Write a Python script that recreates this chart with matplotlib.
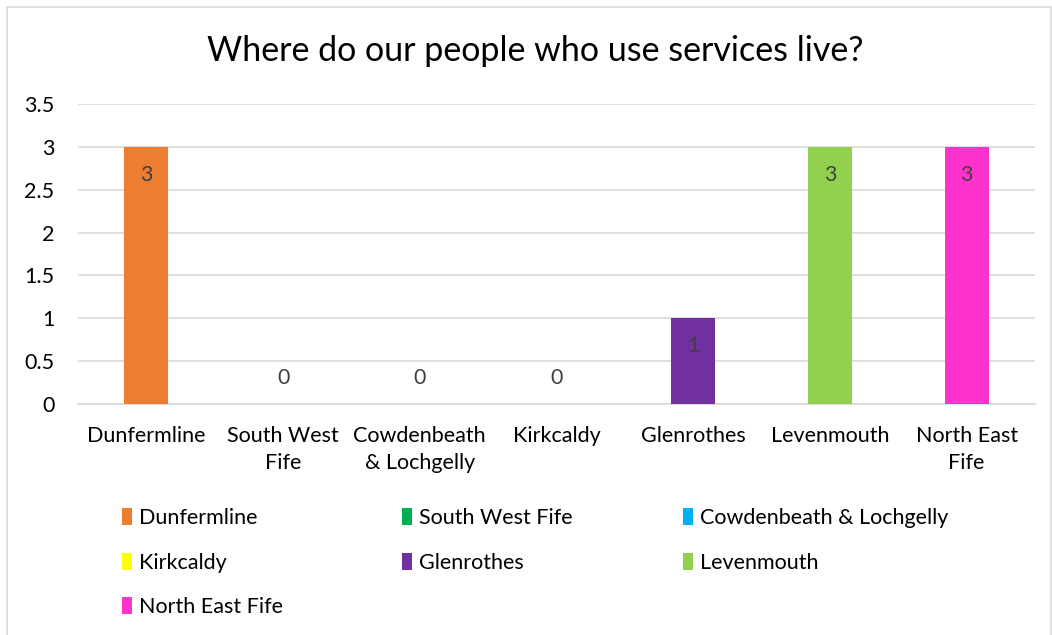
import matplotlib
matplotlib.use("Agg")
import matplotlib.pyplot as plt
from matplotlib.patches import Patch, Rectangle

# data
areas = ["Dunfermline", "South West Fife", "Cowdenbeath & Lochgelly", "Kirkcaldy",
         "Glenrothes", "Levenmouth", "North East Fife"]
tick_labels = ["Dunfermline", "South West\nFife", "Cowdenbeath\n& Lochgelly", "Kirkcaldy",
               "Glenrothes", "Levenmouth", "North East\nFife"]
counts = [3, 0, 0, 0, 1, 3, 3]
colors = ["#ED7D31", "#00B050", "#00B0F0", "#FFFF00", "#7030A0", "#92D050", "#FF33CC"]

plt.rcParams["font.family"] = ["Lato", "DejaVu Sans"]

W, H = 1052, 635
fig = plt.figure(figsize=(W / 100, H / 100), dpi=100)
ax = fig.add_axes([78 / W, 1 - 404 / H, (1035 - 78) / W, 300 / H])

x = range(len(areas))
bars = ax.bar(x, counts, width=0.32, color=colors, zorder=3)

# value labels: inside the bar top, or just above the axis when zero
for xi, v in zip(x, counts):
    if v > 0:
        ax.annotate(str(v), (xi, v), xytext=(0, -20), textcoords="offset points",
                    ha="center", va="center", fontsize=15.5, color="#404040", zorder=4)
    else:
        ax.annotate(str(v), (xi, v), xytext=(0, 19), textcoords="offset points",
                    ha="center", va="center", fontsize=15.5, color="#404040", zorder=4)

ax.set_xlim(-0.5, len(areas) - 0.5)
ax.set_ylim(0, 3.5)
ax.set_yticks([0, 0.5, 1, 1.5, 2, 2.5, 3, 3.5])
ax.set_yticklabels(["0", "0.5", "1", "1.5", "2", "2.5", "3", "3.5"])
ax.set_xticks(list(x))
ax.set_xticklabels(tick_labels, linespacing=1.4)
ax.tick_params(axis="y", length=0, pad=17, labelsize=15.5, labelcolor="#000000")
ax.tick_params(axis="x", length=0, pad=16, labelsize=15.5, labelcolor="#000000")
ax.grid(axis="y", color="#D9D9D9", linewidth=1.2, zorder=0)
for s in ["left", "right", "top"]:
    ax.spines[s].set_visible(False)
ax.spines["bottom"].set_color("#D9D9D9")
ax.spines["bottom"].set_linewidth(1.2)

fig.text(535 / W, 1 - 51 / H, "Where do our people who use services live?",
         ha="center", va="center", fontsize=24.5, color="#000000")

# legend laid out as three columns, matching the row order of the original
handles = [Patch(facecolor=c, edgecolor="none") for c in colors]
columns = [[0, 3, 6], [1, 4], [2, 5]]
col_x = [122, 402, 683]
for cx, idx in zip(col_x, columns):
    fig.legend([handles[i] for i in idx], [areas[i] for i in idx],
               loc="upper left", bbox_to_anchor=(cx / W, 1 - 508 / H),
               frameon=False, fontsize=15.5, handlelength=0.45, handleheight=0.85,
               handletextpad=0.35, labelspacing=1.14, borderaxespad=0, borderpad=0)

# thin chart border
fig.add_artist(Rectangle((7 / W, -0.01), (W - 8) / W, 1 - 7 / H + 0.01,
                         transform=fig.transFigure, fill=False,
                         edgecolor="#D9D9D9", linewidth=1.2))

fig.savefig("out.png", dpi=100)
